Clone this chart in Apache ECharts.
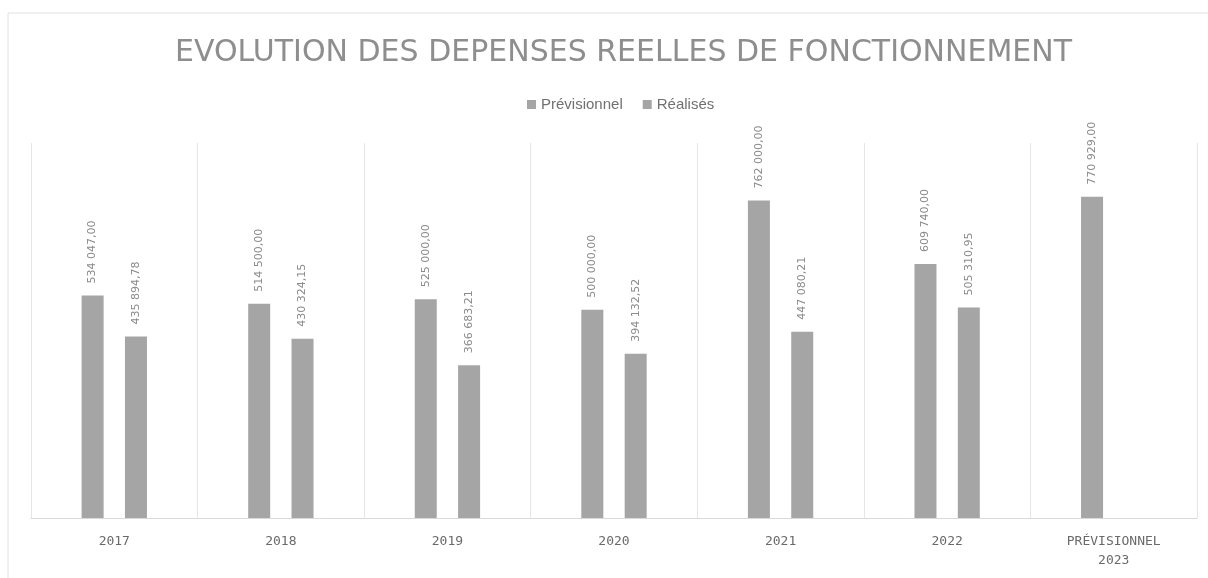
<!DOCTYPE html>
<html>
<head>
<meta charset="utf-8">
<script src="https://cdn.jsdelivr.net/npm/echarts@6/dist/echarts.min.js"></script>
<style>
  html, body { margin: 0; padding: 0; background: #fff; }
  #chart { width: 1208px; height: 578px; }
</style>
</head>
<body>
<div id="chart"></div>
<script>
var categories = ['2017', '2018', '2019', '2020', '2021', '2022', 'PRÉVISIONNEL\n2023'];
var previsionnel = [534047.00, 514500.00, 525000.00, 500000.00, 762000.00, 609740.00, 770929.00];
var realises = [435894.78, 430324.15, 366683.21, 394132.52, 447080.21, 505310.95, null];

// format "534 047,00"
function frNumber(v) {
    var parts = v.toFixed(2).split('.');
    var ent = parts[0].replace(/\B(?=(\d{3})+(?!\d))/g, ' ');
    return ent + ',' + parts[1];
}

var myChart = echarts.init(document.getElementById('chart'));

var barLabel = {
    show: true,
    position: 'top',
    rotate: 90,
    align: 'left',
    verticalAlign: 'middle',
    distance: 12,
    fontSize: 11,
    fontFamily: 'DejaVu Sans',
    color: '#8a8a8a',
    formatter: function (p) { return frNumber(p.value); }
};

var option = {
    backgroundColor: '#fff',
    animation: false,
    title: {
        text: 'EVOLUTION DES DEPENSES REELLES DE FONCTIONNEMENT',
        left: 170,
        top: 33,
        textStyle: {
            fontSize: 30,
            fontWeight: 'normal',
            fontFamily: 'DejaVu Sans',
            color: '#8e8e8e'
        }
    },
    legend: {
        top: 92,
        left: 522,
        itemWidth: 9,
        itemHeight: 9,
        itemGap: 20,
        icon: 'rect',
        textStyle: { fontSize: 15, color: '#707070', fontFamily: 'Liberation Sans' },
        data: ['Prévisionnel', 'Réalisés']
    },
    graphic: [{
        type: 'rect',
        shape: { x: 8, y: 13, width: 1250, height: 620 },
        style: { fill: 'none', stroke: '#e2e2e2', lineWidth: 1 },
        silent: true
    }],
    grid: { left: 31, right: 11, top: 143, bottom: 60 },
    xAxis: {
        type: 'category',
        data: categories,
        axisLine: { lineStyle: { color: '#d9d9d9' } },
        axisTick: { show: false },
        splitLine: { show: true, lineStyle: { color: '#e6e6e6' } },
        axisLabel: {
            margin: 14,
            fontSize: 13,
            lineHeight: 19,
            color: '#6a6a6a',
            fontFamily: 'DejaVu Sans Mono'
        }
    },
    yAxis: {
        type: 'value',
        min: 0,
        max: 900000,
        show: false
    },
    series: [
        {
            name: 'Prévisionnel',
            type: 'bar',
            data: previsionnel,
            barWidth: 22,
            barGap: '97%',
            itemStyle: { color: '#a5a5a5' },
            label: barLabel
        },
        {
            name: 'Réalisés',
            type: 'bar',
            data: realises,
            barWidth: 22,
            itemStyle: { color: '#a5a5a5' },
            label: barLabel
        }
    ]
};
myChart.setOption(option);
</script>
</body>
</html>
